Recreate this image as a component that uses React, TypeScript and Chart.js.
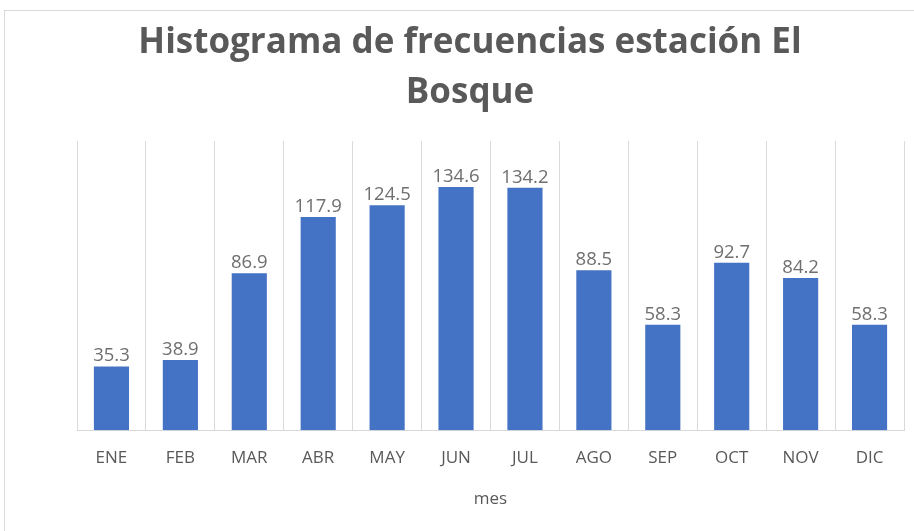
import React, { useEffect, useRef } from "react";
import { Chart, registerables } from "chart.js";

Chart.register(...registerables);

const categories = ["ENE", "FEB", "MAR", "ABR", "MAY", "JUN", "JUL", "AGO", "SEP", "OCT", "NOV", "DIC"];
const values = [35.3, 38.9, 86.9, 117.9, 124.5, 134.6, 134.2, 88.5, 58.3, 92.7, 84.2, 58.3];
const titleLines = ["Histograma de frecuencias estación El", "Bosque"];
const xTitle = "mes";

const FONT = "'Open Sans', 'Noto Sans', sans-serif";
const GRAY = "#595959";

const dataLabels = {
  id: "dataLabels",
  afterDatasetsDraw(chart: any) {
    const ctx = chart.ctx;
    const meta = chart.getDatasetMeta(0);
    ctx.save();
    ctx.font = `18.5px ${FONT}`;
    ctx.fillStyle = "#6f6f6f";
    ctx.textAlign = "center";
    ctx.textBaseline = "bottom";
    meta.data.forEach((bar: any, i: number) => {
      ctx.fillText(values[i].toFixed(1), bar.x, bar.y - 1);
    });
    ctx.restore();
  },
};

const chartTitle = {
  id: "chartTitle",
  afterDraw(chart: any) {
    const ctx = chart.ctx;
    ctx.save();
    ctx.font = `bold 35px ${FONT}`;
    ctx.fillStyle = GRAY;
    ctx.textAlign = "center";
    ctx.textBaseline = "middle";
    titleLines.forEach((line, i) => {
      ctx.fillText(line, 470, 43 + i * 50);
    });
    ctx.restore();
  },
};

export default function App() {
  const ref = useRef<HTMLCanvasElement>(null);
  useEffect(() => {
    if (!ref.current) return;
    const chart = new Chart(ref.current, {
      type: "bar",
      data: {
        labels: categories,
        datasets: [
          {
            data: values,
            backgroundColor: "#4472C4",
            borderWidth: 0,
            barPercentage: 0.51,
            categoryPercentage: 1,
          },
        ],
      },
      options: {
        responsive: false,
        animation: false,
        layout: { padding: { left: 77, right: 10, top: 141, bottom: 22 } },
        plugins: {
          legend: { display: false },
          tooltip: { enabled: false },
          title: { display: false },
        },
        scales: {
          x: {
            grid: { display: true, color: "#d9d9d9", drawTicks: false, offset: true },
            border: { display: true, color: "#d9d9d9" },
            ticks: { color: GRAY, font: { family: FONT, size: 17 }, padding: 18 },
            title: {
              display: true,
              text: xTitle,
              color: GRAY,
              font: { family: FONT, size: 17 },
              padding: { top: 2, bottom: 0 },
            },
          },
          y: {
            display: false,
            min: 0,
            max: 160,
          },
        },
      },
      plugins: [dataLabels, chartTitle],
    });
    return () => chart.destroy();
  }, []);
  return (
    <div style={{ position: "fixed", left: 0, top: 0, width: 914, height: 531, background: "#fff" }}>
      <div
        style={{
          position: "absolute",
          left: 4,
          top: 10,
          width: 920,
          height: 530,
          border: "1px solid #d9d9d9",
        }}
      />
      <canvas ref={ref} width={914} height={531} style={{ position: "absolute", left: 0, top: 0 }} />
    </div>
  );
}
